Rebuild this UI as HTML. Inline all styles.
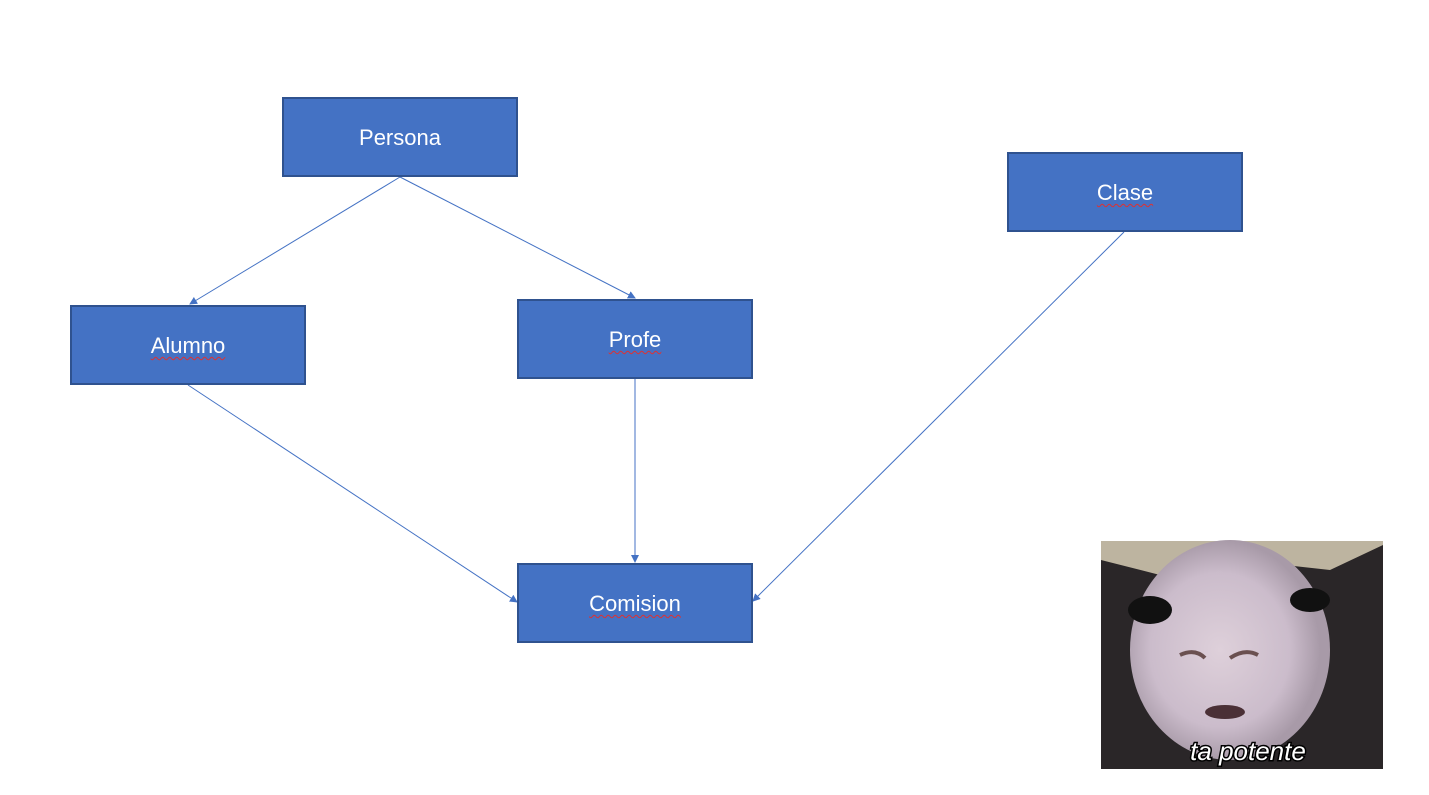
<!DOCTYPE html>
<html><head><meta charset="utf-8"><style>
body{margin:0;width:1429px;height:795px;background:#fff;overflow:hidden;position:relative;font-family:"Liberation Sans",sans-serif}
.b{position:absolute;background:#4472C4;border:2px solid #2F528F;box-sizing:border-box;width:236px;height:80px;color:#fff;font-size:22px;display:flex;align-items:center;justify-content:center;padding-top:2px}
.u{text-decoration:underline wavy #e03030;text-decoration-thickness:1px;text-underline-offset:3px}
</style></head><body>
<svg width="1429" height="795" style="position:absolute;left:0;top:0">
<defs><marker id="a" markerWidth="8" markerHeight="8" refX="7" refY="4" orient="auto" markerUnits="userSpaceOnUse"><path d="M0,0 L8,4 L0,8z" fill="#4472C4"/></marker>
<radialGradient id="f" cx="0.45" cy="0.5" r="0.5"><stop offset="0" stop-color="#ded0da"/><stop offset="0.7" stop-color="#cbbccb"/><stop offset="1" stop-color="#a89aa8"/></radialGradient></defs>
<g stroke="#4472C4" stroke-width="1" fill="none" marker-end="url(#a)">
<line x1="400" y1="177" x2="190" y2="304"/>
<line x1="400" y1="177" x2="635" y2="298"/>
<line x1="188" y1="385" x2="517" y2="602"/>
<line x1="635" y1="379" x2="635" y2="562"/>
<line x1="1124" y1="232" x2="753" y2="601"/>
</g>
<g>
<rect x="1101" y="541" width="282" height="228" rx="4" fill="#6a6258"/>
<rect x="1101" y="541" width="282" height="60" fill="#bdb4a0"/>
<path d="M1101,560 L1160,575 L1240,560 L1330,570 L1383,545 L1383,769 L1101,769z" fill="#2a2628"/>
<ellipse cx="1230" cy="650" rx="100" ry="110" fill="url(#f)"/>
<ellipse cx="1150" cy="610" rx="22" ry="14" fill="#111"/>
<ellipse cx="1310" cy="600" rx="20" ry="12" fill="#111"/>
<path d="M1180,655 Q1195,648 1205,658 M1230,658 Q1245,648 1258,655" stroke="#6a5050" stroke-width="4" fill="none"/>
<ellipse cx="1225" cy="712" rx="20" ry="7" fill="#4a3036"/>
<text x="1248" y="760" font-family="Liberation Sans,sans-serif" font-style="italic" font-size="26" fill="#fff" stroke="#000" stroke-width="3" paint-order="stroke" text-anchor="middle">ta potente</text>
</g>
</svg>
<div class="b" style="left:282px;top:97px">Persona</div>
<div class="b" style="left:70px;top:305px"><span class="u">Alumno</span></div>
<div class="b" style="left:517px;top:299px"><span class="u">Profe</span></div>
<div class="b" style="left:1007px;top:152px"><span class="u">Clase</span></div>
<div class="b" style="left:517px;top:563px"><span class="u">Comision</span></div>
</body></html>
